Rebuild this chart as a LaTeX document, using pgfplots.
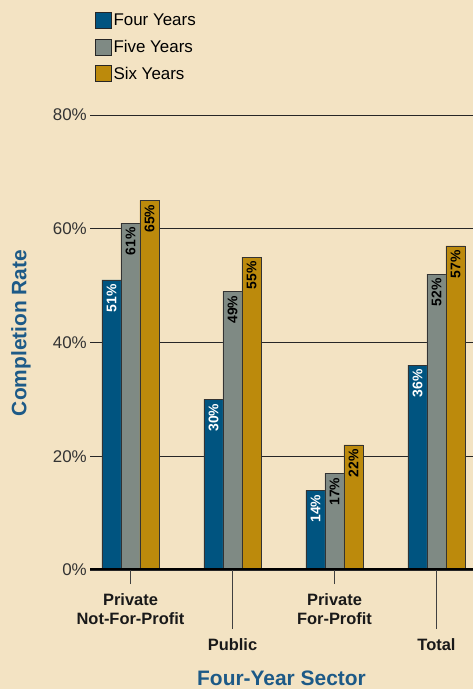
\documentclass[border=0pt]{standalone}
\usepackage{fontspec}
\setmainfont{Liberation Sans}
\usepackage{pgfplots}
\pgfplotsset{compat=1.18}
\definecolor{bg}{HTML}{F3E3C3}
\definecolor{fouryr}{HTML}{005480}
\definecolor{fiveyr}{HTML}{7F8A84}
\definecolor{sixyr}{HTML}{BC8A0C}
\definecolor{titleblue}{HTML}{1D5A87}
\begin{document}
\begin{tikzpicture}
\useasboundingbox (0,0) rectangle (473bp,689bp);
\fill[bg] (0,0) rectangle (473bp,689bp);
\begin{axis}[
  at={(90bp,119bp)}, anchor=south west,
  scale only axis, width=383bp, height=455bp,
  ymin=0, ymax=80, xmin=-0.397, xmax=3.358,
  ybar=0pt, bar width=19bp,
  /pgf/number format/assume math mode=true,
  axis x line*=bottom, axis y line*=left,
  x axis line style={draw=none}, y axis line style={draw=none},
  ytick={0,20,40,60,80},
  yticklabels={0\%,20\%,40\%,60\%,80\%},
  ymajorgrids, grid style={black!85, line width=0.8bp},
  ytick style={draw=none},
  yticklabel style={font=\fontsize{17}{20}\selectfont, text=black!80, inner sep=2bp, xshift=13bp},
  tick align=outside,
  xtick={0,2},
  xticklabels={Private\\Not-For-Profit, Private\\For-Profit},
  extra x ticks={1,3},
  extra x tick labels={Public,Total},
  extra x tick style={major tick length=59bp},
  major tick length=14bp,
  xtick style={draw=black!75, line width=1.2bp},
  xticklabel style={font=\bfseries\fontsize{16.5}{19}\selectfont, align=center, text=black!90, yshift=-6bp},
  ylabel={Completion Rate},
  every axis y label/.style={at={(axis description cs:-0.180,0.521)}, rotate=90, anchor=center,
    font=\bfseries\fontsize{21}{24}\selectfont, text=titleblue},
  xlabel={Four-Year Sector},
  every axis x label/.style={at={(axis description cs:0.5,-0.254)}, anchor=base,
    font=\bfseries\fontsize{21}{24}\selectfont, text=titleblue},
  legend style={at={(axis description cs:0.004,1.231)}, anchor=north west, draw=none, fill=none,
    font=\fontsize{17}{20}\selectfont, row sep=9bp, cells={anchor=west},
    /tikz/every even column/.append style={column sep=3bp}},
  legend image code/.code={\draw[#1, draw=black!85, line width=0.8bp] (0bp,-8bp) rectangle (16bp,8bp);},
  nodes near coords={\pgfmathprintnumber{\pgfplotspointmeta}\%},
  nodes near coords style={rotate=90, anchor=east, inner sep=4bp, font=\bfseries\fontsize{14}{16}\selectfont},
]
\addplot[fill=fouryr, draw=black!80, line width=0.6bp, every node near coord/.append style={text=white}]
  coordinates {(0,51) (1,30) (2,14) (3,36)};
\addlegendentry{Four Years}
\addplot[fill=fiveyr, draw=black!80, line width=0.6bp, every node near coord/.append style={text=black}]
  coordinates {(0,61) (1,49) (2,17) (3,52)};
\addlegendentry{Five Years}
\addplot[fill=sixyr, draw=black!80, line width=0.6bp, every node near coord/.append style={text=black}]
  coordinates {(0,65) (1,55) (2,22) (3,57)};
\addlegendentry{Six Years}
\draw[line width=4bp, black] (rel axis cs:0,0) -- (rel axis cs:1,0);
\end{axis}
\end{tikzpicture}
\end{document}
